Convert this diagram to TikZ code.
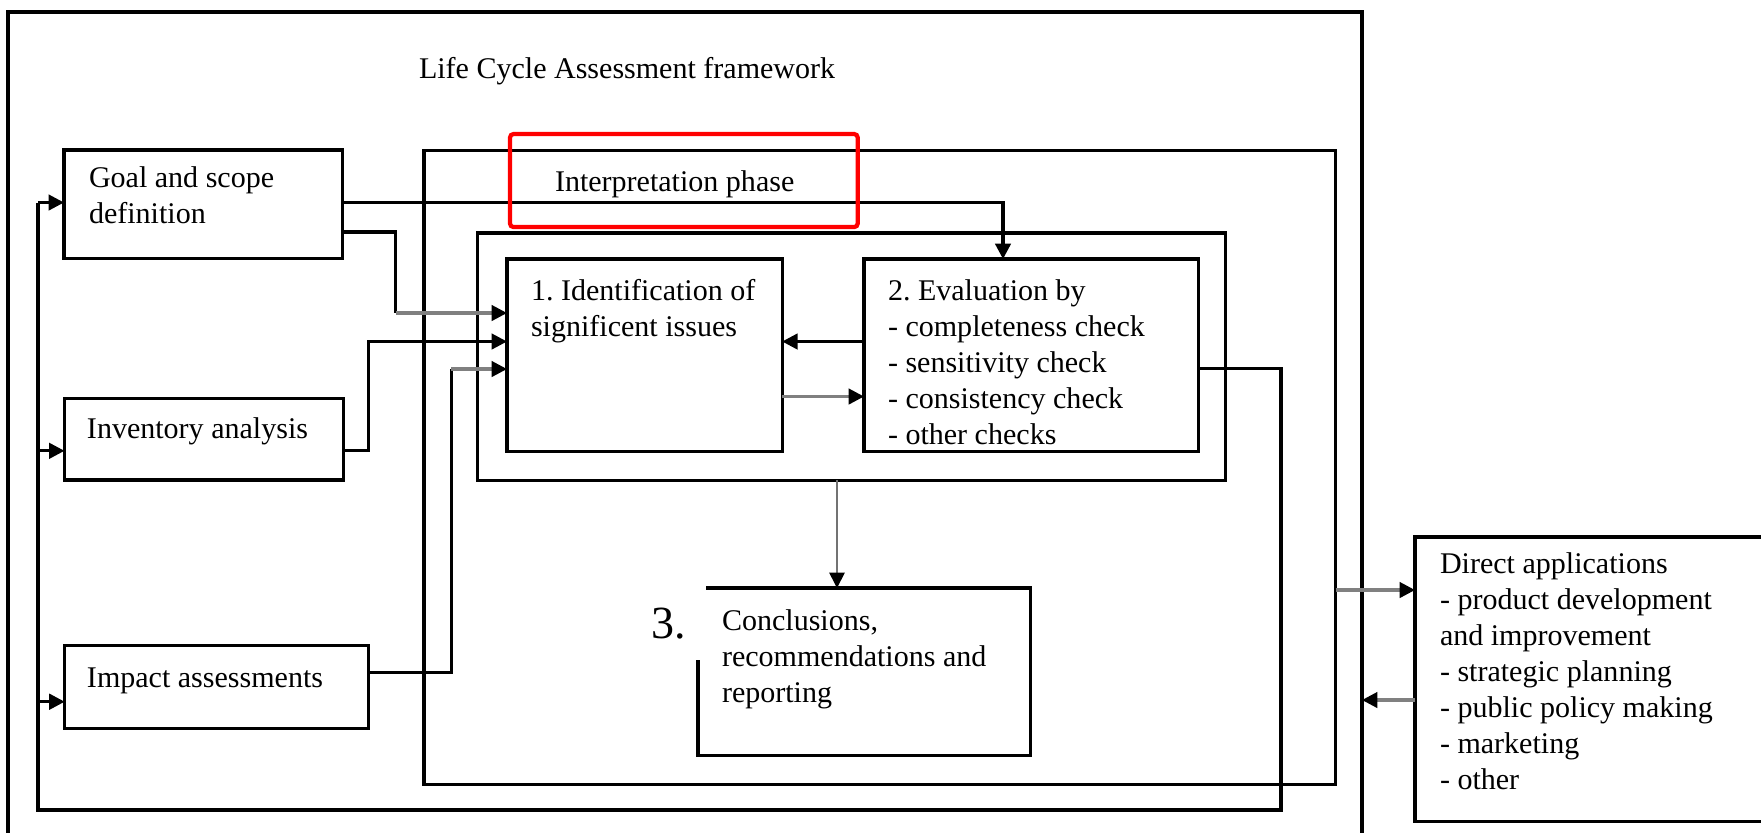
\documentclass[tikz,border=0pt]{standalone}
\usepackage{fontspec}
\setmainfont{Liberation Serif}
\usetikzlibrary{arrows.meta,calc}
\frenchspacing
\begin{document}
\begin{tikzpicture}[x=0.01cm, y=-0.01cm,
  font=\fontsize{8.54pt}{10.24pt}\selectfont,
  box/.style={draw, line width=0.9pt, inner sep=0pt, outer sep=0pt, anchor=north west},
  hidden/.style={inner sep=0pt, outer sep=0pt, anchor=north west},
  txt/.style={inner sep=0pt, outer sep=0pt, align=left, anchor=north west},
  plain/.style={inner sep=0pt, outer sep=0pt, anchor=base west},
  link/.style={line width=0.9pt, draw=black},
  graylink/.style={line width=0.9pt, draw=black!50},
  thinlink/.style={line width=0.45pt, draw=black!55},
  arrowed/.style={-{Triangle[length=4.4pt, width=4.4pt, color=black]}},
  highlight/.style={draw=red, line width=1.2pt, rounded corners=1pt,
    inner sep=0pt, outer sep=0pt, anchor=north west}
]
\useasboundingbox (0,0) rectangle (1761,832);
\fill[white] (0,0) rectangle (1761,832);
\clip (0,0) rectangle (1761,832);

% outer framework frame (open at the bottom)
\coordinate (fbl) at (8,840);
\coordinate (ftl) at (8,12);
\coordinate (ftr) at (1362,12);
\coordinate (fbr) at (1362,840);
\draw[link] (fbl) -- (ftl) -- (ftr) -- (fbr);
\node[plain] (title) at (419,78) {Life Cycle Assessment framework};

% phase boxes
\node[box, minimum width=2.785cm, minimum height=1.083cm] (goal) at (64,150) {};
\node[box, minimum width=2.785cm, minimum height=0.817cm] (inv) at (64.5,398.3) {};
\node[box, minimum width=3.04cm, minimum height=0.826cm] (imp) at (64.7,645.7) {};
\node[box, minimum width=9.11cm, minimum height=6.335cm] (interp) at (424,150.5) {};
\node[box, minimum width=7.475cm, minimum height=2.47cm] (inner) at (477.5,233) {};
\node[box, minimum width=2.75cm, minimum height=1.925cm] (ident) at (507,259) {};
\node[box, minimum width=3.34cm, minimum height=1.925cm] (eval) at (864,259) {};
\node[hidden, minimum width=3.32cm, minimum height=1.67cm] (concl) at (698,588) {};
\node[box, minimum width=3.6cm, minimum height=2.84cm] (direct) at (1415,537) {};

% conclusions box, left top corner left open for the number
\draw[link] ($(concl.north west)+(8,0)$) -- (concl.north east) -- (concl.south east)
  -- (concl.south west) -- ($(concl.south west)+(0,-95)$);

% texts
\node[txt] (goaltxt) at (89,166.5) {Goal and scope\\definition};
\node[plain] (invtxt) at (87,438) {Inventory analysis};
\node[plain] (imptxt) at (87,687) {Impact assessments};
\node[plain] (phasetxt) at (555,191) {Interpretation phase};
\node[txt] (identtxt) at (531,279.5) {1. Identification of\\significent issues};
\node[txt] (evaltxt) at (888,279.5) {2. Evaluation by\\- completeness check\\- sensitivity check\\- consistency check\\- other checks};
\node[txt] (concltxt) at (722,609.5) {Conclusions,\\recommendations and\\reporting};
\node[plain, font=\fontsize{13.1pt}{15pt}\selectfont] (num) at (651,638) {3.};
\node[txt] (directtxt) at (1440,552.5) {Direct applications\\- product development\\and improvement\\- strategic planning\\- public policy making\\- marketing\\- other};

% goal -> evaluation
\draw[link, arrowed] ($(goal.north east)+(0,52.5)$) -| ($(eval.north west)+(139,0)$);

% goal -> identification
\coordinate (idin1) at ($(ident.north west)+(0,54)$);
\coordinate (idin2) at ($(ident.north west)+(0,82.5)$);
\coordinate (idin3) at ($(ident.north west)+(0,110)$);
\coordinate (gbend) at ($(goal.north east)+(53,82)$);
\draw[link] ($(goal.north east)+(0,82)$) -- (gbend) -- (gbend |- idin1);
\draw[graylink, arrowed] (gbend |- idin1) -- (idin1);

% inventory -> identification
\draw[link, arrowed] ($(inv.north east)+(0,52.5)$) -- ++(25.5,0) |- (idin2);

% impact -> identification
\coordinate (ibend) at ($(imp.north east)+(82.5,26.5)$);
\draw[link] ($(imp.north east)+(0,26.5)$) -- (ibend) -- (ibend |- idin3);
\draw[graylink, arrowed] (ibend |- idin3) -- (idin3);

% identification <-> evaluation
\draw[link, arrowed] ($(eval.north west)+(0,82.5)$) -- ($(ident.north east)+(0,82.5)$);
\draw[graylink, arrowed] ($(ident.north east)+(0,137.5)$) -- ($(eval.north west)+(0,137.5)$);

% interpretation -> conclusions
\coordinate (cdrop) at ($(inner.south west)+(359.5,0)$);
\draw[thinlink, arrowed] (cdrop) -- (cdrop |- concl.north);

% feedback loop back to the phases
\coordinate (evout) at ($(eval.north east)+(0,109.3)$);
\coordinate (loopR) at (1281,810);
\coordinate (loopL) at (38,810);
\coordinate (loopT) at (38,202.5);
\draw[link] (evout) -| (loopR) -- (loopL) -- (loopT);
\coordinate (invin) at ($(inv.north west)+(0,52.5)$);
\coordinate (impin) at ($(imp.north west)+(0,56)$);
\draw[link, arrowed] (loopT) -- (goal.west |- loopT);
\draw[link, arrowed] (loopL |- invin) -- (invin);
\draw[link, arrowed] (loopL |- impin) -- (impin);

% direct applications
\coordinate (apout) at ($(interp.north east)+(0,439.5)$);
\draw[graylink, arrowed] (apout) -- (direct.west |- apout);
\coordinate (apin) at ($(direct.north west)+(0,163)$);
\draw[graylink, arrowed] (apin) -- (ftr |- apin);

% highlighted phase title
\node[highlight, minimum width=3.475cm, minimum height=0.93cm] (focus) at (510,134) {};
\end{tikzpicture}
\end{document}
